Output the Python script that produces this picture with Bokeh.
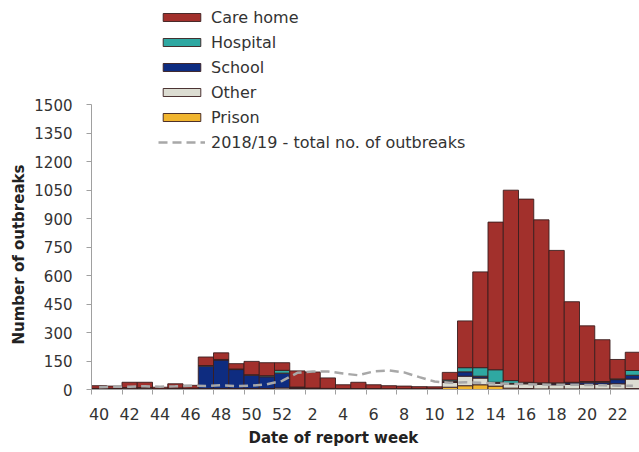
from bokeh.plotting import figure
from bokeh.models import ColumnDataSource, Range1d, FixedTicker, Legend, LegendItem, Title
from bokeh.embed import file_html
from bokeh.resources import INLINE

weeks = [40, 41, 42, 43, 44, 45, 46, 47, 48, 49, 50, 51, 52,
         1, 2, 3, 4, 5, 6, 7, 8, 9, 10, 11, 12, 13, 14, 15, 16, 17, 18, 19, 20, 21, 22, 23]
care_home = [14, 12, 28, 28, 8, 22, 15, 45, 35, 28, 70, 68, 40,
             85, 84, 55, 20, 33, 20, 16, 14, 11, 10, 40, 246, 504, 777, 1002, 964, 858, 697, 424, 293, 220, 102, 96]
hospital = [0, 0, 2, 2, 0, 0, 0, 3, 3, 3, 3, 6, 15,
            2, 2, 1, 0, 0, 0, 0, 0, 0, 0, 8, 22, 45, 66, 15, 5, 3, 3, 3, 4, 4, 4, 25]
school = [0, 0, 0, 0, 0, 0, 2, 118, 150, 100, 70, 62, 78,
          6, 0, 0, 0, 0, 0, 0, 0, 0, 0, 5, 23, 10, 5, 3, 3, 5, 7, 8, 10, 10, 22, 20]
other = [6, 6, 8, 8, 4, 8, 5, 5, 5, 5, 5, 5, 8,
         5, 6, 5, 5, 5, 5, 4, 4, 4, 4, 25, 50, 35, 15, 22, 25, 24, 22, 24, 25, 25, 27, 50]
prison = [0, 0, 0, 0, 0, 0, 0, 0, 0, 0, 0, 0, 0,
          0, 0, 0, 0, 0, 0, 0, 0, 0, 0, 12, 20, 25, 18, 7, 5, 3, 3, 3, 3, 3, 3, 5]
total_2018_19 = [12, 14, 15, 17, 15, 17, 20, 18, 22, 18, 20, 28, 45,
                 88, 95, 95, 84, 75, 95, 100, 90, 65, 42, 35, 38, 35, 32, 30, 28, 26, 25, 25, 24, 22, 20, 20]
y_ticks = [0, 150, 300, 450, 600, 750, 900, 1050, 1200, 1350, 1500]

series = ["prison", "other", "school", "hospital", "care_home"]
labels = {"care_home": "Care home", "hospital": "Hospital", "school": "School",
          "other": "Other", "prison": "Prison"}
colors = {"care_home": "#a2302c", "hospital": "#2fa8a2", "school": "#0e2c80",
          "other": "#dcddd2", "prison": "#f1b52f"}

xs = [i + 0.5 for i in range(len(weeks))]
src = ColumnDataSource(dict(x=xs, care_home=care_home, hospital=hospital, school=school,
                            other=other, prison=prison, total=total_2018_19))

W, H = 639, 450
left, bottom = 91, 61
frame_h = H - bottom
px_per_unit = 285 / 1500.0
p = figure(width=W, height=H, output_backend="svg", toolbar_location=None,
           x_range=Range1d(0, (W - left) / 15.25),
           y_range=Range1d(0, frame_h / px_per_unit),
           min_border_top=0, min_border_bottom=bottom, min_border_right=0,
           min_border_left=left)
p.outline_line_color = None
p.grid.grid_line_color = None

rs = p.vbar_stack(series, x="x", width=1.0, source=src,
                  fill_color=[colors[s] for s in series],
                  line_color="#3a1e1e", line_width=0.9)
line_r = p.line("x", "total", source=src, line_color="#a8a8a8", line_width=2.5,
                line_dash="9 5")

rmap = dict(zip(series, rs))
items = [LegendItem(label=labels[s], renderers=[rmap[s]])
         for s in ["care_home", "hospital", "school", "other", "prison"]]
items.append(LegendItem(label="2018/19 - total no. of outbreaks", renderers=[line_r]))
legend = Legend(items=items, location=(67, 237), orientation="vertical",
                glyph_width=47, glyph_height=10, label_height=20, spacing=5,
                label_standoff=6, padding=0, margin=0,
                border_line_color=None, background_fill_alpha=0,
                label_text_font="DejaVu Sans", label_text_font_size="16px",
                label_text_color="#333333")
p.add_layout(legend, "center")

# x axis: labels at even weeks, tick marks at category boundaries
even_idx = [i for i, w in enumerate(weeks) if w % 2 == 0]
p.xaxis.ticker = FixedTicker(ticks=[xs[i] for i in even_idx],
                             minor_ticks=[float(i) for i in even_idx])
p.xaxis.major_label_overrides = {xs[i]: str(weeks[i]) for i in even_idx}
p.xaxis.major_tick_out = 0
p.xaxis.major_tick_in = 0
p.xaxis.minor_tick_out = 5
p.xaxis.minor_tick_in = 0
p.xaxis.minor_tick_line_color = "#a0a0a0"
p.xaxis.major_label_standoff = 13

p.yaxis.ticker = FixedTicker(ticks=y_ticks)
p.yaxis.bounds = (y_ticks[0], y_ticks[-1])
p.yaxis.major_tick_out = 5
p.yaxis.major_tick_in = 0
p.yaxis.minor_tick_line_color = None
p.yaxis.major_tick_line_color = "#a0a0a0"
p.yaxis.major_label_standoff = 14

for ax in (p.xaxis, p.yaxis):
    ax.axis_line_color = "#a0a0a0"
    ax.major_label_text_font = "DejaVu Sans"
    ax.major_label_text_color = "#333333"
p.xaxis.major_label_text_font_size = "16px"
p.yaxis.major_label_text_font_size = "15px"

# axis titles placed as side titles so they sit where the reference has them
xt = Title(text="Date of report week", align="left", offset=157, standoff=8,
           text_font="DejaVu Sans", text_font_size="15px", text_font_style="bold",
           text_color="#222222")
p.add_layout(xt, "below")
yt = Title(text="Number of outbreaks", align="left", offset=45, standoff=8,
           text_font="DejaVu Sans", text_font_size="15px", text_font_style="bold",
           text_color="#222222")
p.add_layout(yt, "left")

open("out.html", "w").write(file_html(p, INLINE))
